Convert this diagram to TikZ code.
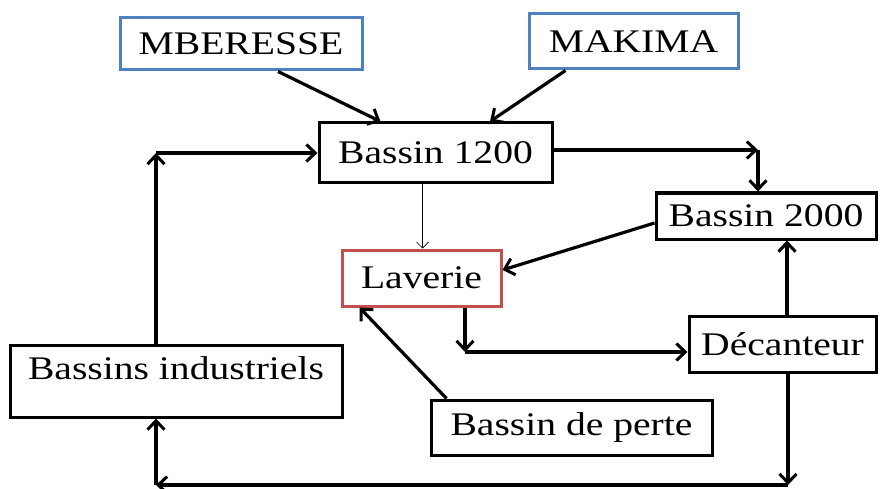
\documentclass[tikz,border=0pt]{standalone}
\usepackage{fontspec}
\setmainfont{Liberation Serif}[FakeStretch=1.2]
\usetikzlibrary{arrows.meta,calc}
\definecolor{boxblue}{HTML}{4F81BD}
\definecolor{boxred}{HTML}{C0504D}
\begin{document}
\begin{tikzpicture}[x=1pt,y=1pt,
  box/.style={draw=black,line width=3pt,inner sep=0pt,font=\fontsize{33}{38}\selectfont},
  bluebox/.style={box,draw=boxblue},
  redbox/.style={box,draw=boxred},
  flow/.style={line width=3.2pt,-{Straight Barb[length=9pt,width=17pt,line width=3pt]}},
  thinflow/.style={line width=0.7pt,-{Straight Barb[length=6pt,width=12pt,line width=0.7pt]}}]
\useasboundingbox (0,0) rectangle (880,-489);
\node[bluebox,minimum width=242pt,minimum height=52pt] (mb) at (241,-44) {MBERESSE};
\node[bluebox,minimum width=209pt,minimum height=55pt] (mk) at (633.5,-41.5) {MAKIMA};
\node[box,minimum width=233pt,minimum height=60pt] (b12) at (435.5,-153) {Bassin 1200};
\node[box,minimum width=220pt,minimum height=46pt] (b20) at (766,-216) {Bassin 2000};
\node[redbox,minimum width=159pt,minimum height=56pt] (lav) at (421.5,-278) {Laverie};
\node[box,minimum width=187pt,minimum height=56pt] (dec) at (782.5,-344) {Décanteur};
\node[box,minimum width=332pt,minimum height=72pt,text height=20pt,text depth=24pt] (bi) at (176,-381) {Bassins industriels};
\node[box,minimum width=281pt,minimum height=55pt] (bp) at (571.5,-427.5) {Bassin de perte};
\coordinate (c1) at (758,-150);
\coordinate (xr) at (787,0);
\coordinate (c3) at (465,-352);
\coordinate (c5) at (788,-485);
\coordinate (c6) at (156,-485);
\coordinate (c7) at (156,-153);
% inputs
\draw[flow] ([xshift=37pt]mb.south) -- ([xshift=-55pt]b12.north);
\draw[flow] ([xshift=-68pt]mk.south) -- ([xshift=54.5pt]b12.north);
% Bassin 1200 -> Bassin 2000
\draw[flow] (b12.east |- c1) -- (c1);
\draw[flow] (c1) -- (c1 |- b20.north);
% Bassin 1200 -> Laverie
\draw[thinflow] ([xshift=1pt]lav.north |- b12.south) -- ([xshift=1pt]lav.north);
% Bassin 2000 -> Laverie
\draw[flow] ([yshift=-7pt]b20.west) -- ([yshift=8pt]lav.east);
% Decanteur -> Bassin 2000
\draw[flow] (dec.north -| xr) -- (b20.south -| xr);
% Laverie -> Decanteur
\draw[flow] (lav.south -| c3) -- (c3);
\draw[flow] (c3) -- (c3 -| dec.west);
% Bassin de perte -> Laverie
\draw[flow] ([xshift=-125pt]bp.north) -- ([xshift=19pt]lav.south west);
% Decanteur -> Bassins industriels
\draw[flow] (dec.south -| c5) -- (c5);
\draw[flow] (c5) -- (c6);
\draw[flow] (c6) -- (bi.south -| c6);
% Bassins industriels -> Bassin 1200
\draw[flow] (bi.north -| c7) -- (c7);
\draw[flow] (c7) -- (c7 -| b12.west);
\end{tikzpicture}
\end{document}
